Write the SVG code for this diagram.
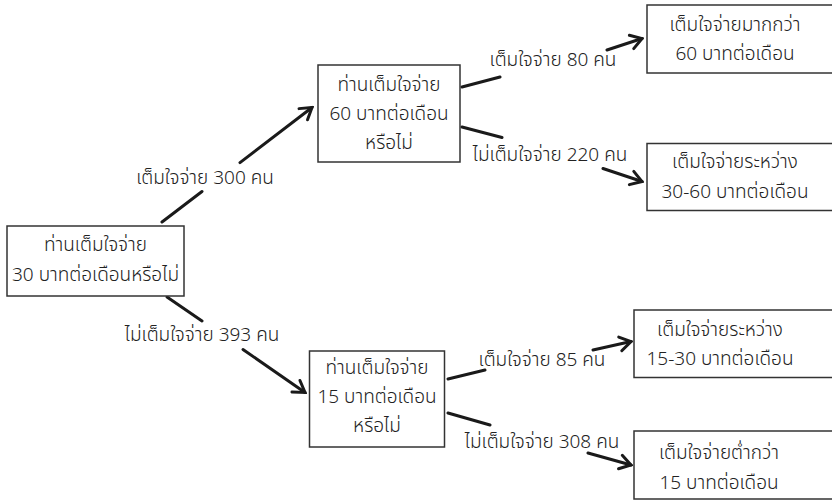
<svg xmlns="http://www.w3.org/2000/svg" width="832" height="501" viewBox="0 0 832 501">
<defs>
<style>
.box{fill:#fff;stroke:#333;stroke-width:1.5}
.t{font-family:"Noto Sans Thai","Noto Sans","Liberation Sans",sans-serif;font-size:19px;font-weight:300;fill:#222;text-anchor:middle}
.c{fill:none;stroke:#1a1a1a;stroke-width:3;stroke-linecap:round}
</style>
<marker id="ah" markerUnits="userSpaceOnUse" viewBox="-14 -9 16 18" refX="0" refY="0" markerWidth="16" markerHeight="18" orient="auto">
<path d="M-11,-7 L0,0 L-11,7" fill="none" stroke="#1a1a1a" stroke-width="3" stroke-linecap="round" stroke-linejoin="miter"/>
</marker>
</defs>
<rect width="832" height="501" fill="#fff"/>
<g id="connectors">
<path class="c" d="M162,222 L202,191.5 M240,162.6 L312,107.5" marker-end="url(#ah)"/>
<path class="c" d="M167,297 L202,321 M243,349.5 L305,392.5" marker-end="url(#ah)"/>
<path class="c" d="M462,87 L500,77 M607,50 L642,38.5" marker-end="url(#ah)"/>
<path class="c" d="M462,127 L502,137.5 M603,168.5 L642,181.5" marker-end="url(#ah)"/>
<path class="c" d="M448,379 L485,370 M593,350 L631,341.5" marker-end="url(#ah)"/>
<path class="c" d="M448,413 L490,425 M588,453 L631,465" marker-end="url(#ah)"/>
<text class="t" x="205" y="184">เต็มใจจ่าย 300 คน</text>
<text class="t" x="202" y="341">ไม่เต็มใจจ่าย 393 คน</text>
<text class="t" x="553" y="66">เต็มใจจ่าย 80 คน</text>
<text class="t" x="550" y="161">ไม่เต็มใจจ่าย 220 คน</text>
<text class="t" x="542" y="366">เต็มใจจ่าย 85 คน</text>
<text class="t" x="542" y="448">ไม่เต็มใจจ่าย 308 คน</text>
</g>
<g id="n1">
<rect class="box" x="7" y="226" width="177" height="70"/>
<text class="t" x="95.5" y="251">ท่านเต็มใจจ่าย</text>
<text class="t" x="95.5" y="281">30 บาทต่อเดือนหรือไม่</text>
</g>
<g id="n2">
<rect class="box" x="318" y="65" width="142" height="97"/>
<text class="t" x="389" y="91">ท่านเต็มใจจ่าย</text>
<text class="t" x="389" y="120">60 บาทต่อเดือน</text>
<text class="t" x="389" y="149">หรือไม่</text>
</g>
<g id="n3">
<rect class="box" x="647" y="5" width="200" height="68"/>
<text class="t" x="735" y="31">เต็มใจจ่ายมากกว่า</text>
<text class="t" x="735" y="60">60 บาทต่อเดือน</text>
</g>
<g id="n4">
<rect class="box" x="647" y="143.5" width="200" height="67"/>
<text class="t" x="735" y="168">เต็มใจจ่ายระหว่าง</text>
<text class="t" x="735" y="198">30-60 บาทต่อเดือน</text>
</g>
<g id="n5">
<rect class="box" x="309.5" y="351" width="135" height="96"/>
<text class="t" x="377" y="374">ท่านเต็มใจจ่าย</text>
<text class="t" x="377" y="403">15 บาทต่อเดือน</text>
<text class="t" x="377" y="432">หรือไม่</text>
</g>
<g id="n6">
<rect class="box" x="634" y="310" width="220" height="67.5"/>
<text class="t" x="720" y="336">เต็มใจจ่ายระหว่าง</text>
<text class="t" x="720" y="365">15-30 บาทต่อเดือน</text>
</g>
<g id="n7">
<rect class="box" x="634" y="431" width="220" height="68"/>
<text class="t" x="719" y="459">เต็มใจจ่ายต่ำกว่า</text>
<text class="t" x="719" y="489">15 บาทต่อเดือน</text>
</g>
</svg>
